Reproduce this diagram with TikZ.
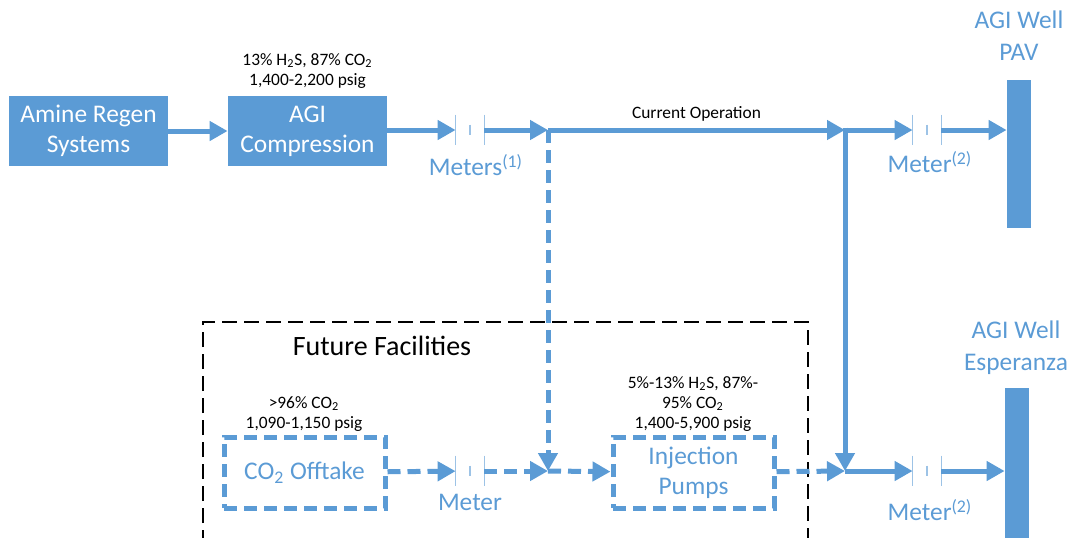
\documentclass[tikz,border=0pt]{standalone}
\usepackage{fontspec}
\setmainfont{Carlito}
\usetikzlibrary{arrows.meta}

\definecolor{pipeblue}{HTML}{5B9BD5}
\definecolor{meterblue}{HTML}{9DC3E6}

\tikzset{
  unit/.style={fill=pipeblue, text=white, minimum width=79.5pt, minimum height=35pt,
    align=center, font=\fontsize{12.7}{15}\selectfont},
  future/.style={draw=pipeblue, line width=2.5pt, dash pattern=on 6.5pt off 3.5pt,
    text=pipeblue, minimum width=80.5pt, minimum height=35.5pt,
    align=center, font=\fontsize{12.7}{15}\selectfont},
  meter/.style={minimum width=14pt, minimum height=15pt},
  meterline/.style={meterblue, line width=0.6pt},
  tag/.style={text=pipeblue, font=\fontsize{12.7}{16}\selectfont, align=center},
  small/.style={text=black, font=\fontsize{8.7}{10}\selectfont, align=center},
  well/.style={fill=pipeblue, minimum width=12pt},
  pipe/.style={pipeblue, line width=2.5pt, -{Triangle[length=9pt,width=9.5pt]}},
  newpipe/.style={pipe, dash pattern=on 6.5pt off 3.5pt},
  facility/.style={line width=1pt, dash pattern=on 7.5pt off 3.5pt}
}

\begin{document}
\begin{tikzpicture}[x=0.5pt,y=-0.5pt, every node/.style={inner sep=0pt}]
\useasboundingbox (0,0) rectangle (1072,537);

% existing plant
\node[unit] (amine) at (88.5,131) {Amine Regen\\Systems};
\node[unit] (agi) at (307.5,131) {AGI\\Compression};
\node[small] (agiinfo) at (307.5,71) {13\% H\textsubscript{2}S, 87\% CO\textsubscript{2}\\1,400-2,200 psig};

\node[meter] (m1) at (470,130) {};
\node[tag] (m1lbl) at (476,165) {Meters\textsuperscript{(1)}};
\node[meter] (m2) at (927,130) {};
\node[tag] (m2lbl) at (930,162) {Meter\textsuperscript{(2)}};

\coordinate (j1) at (548,130);
\coordinate (j2) at (845,130);

% wells
\node[well, minimum height=74pt] (pav) at (1019,154) {};
\node[tag] (pavlbl) at (1019,36) {AGI Well\\PAV};
\node[well, minimum height=86pt] (esp) at (1017,474) {};
\node[tag] (esplbl) at (1016,348) {AGI Well\\Esperanza};

% future facilities
\draw[facility] (203,545) -- (203,322) -- (808,322) -- (808,545);
\node[font=\fontsize{14}{16}\selectfont] (futlbl) at (382,346) {Future Facilities};

\node[future] (offtake) at (304.5,472.5) {CO\textsubscript{2} Offtake};
\node[small] (offinfo) at (304,414) {>96\% CO\textsubscript{2}\\1,090-1,150 psig};
\node[future] (pumps) at (693.5,472.5) {Injection\\Pumps};
\node[small] (pumpinfo) at (693,404) {5\%-13\% H\textsubscript{2}S, 87\%-\\95\% CO\textsubscript{2}\\1,400-5,900 psig};

\node[meter] (m3) at (470,471) {};
\node[tag] (m3lbl) at (470,502) {Meter};
\node[meter] (m4) at (927,471) {};
\node[tag] (m4lbl) at (930,510) {Meter\textsuperscript{(2)}};

\coordinate (j3) at (548,471);
\coordinate (j4) at (845,471);

% meter bodies
\foreach \m in {m1,m2,m3,m4} {
  \draw[meterline] (\m.north west) -- (\m.south west);
  \draw[meterline] (\m.north east) -- (\m.south east);
  \draw[meterline] ([yshift=-5pt]\m.north) -- ([yshift=5pt]\m.south);
}

% piping
\draw[pipe] (amine) -- (agi);
\draw[pipe] (agi.east |- m1) -- (m1);
\draw[pipe] (m1) -- (j1);
\draw[pipe] (j1) -- node[small, above=3pt] (curop) {Current Operation} (j2);
\draw[pipe] ([yshift=1.25pt]j2) -- (j4);
\draw[pipe] (j2) -- (m2);
\draw[pipe] (m2) -- (m2 -| pav.west);

\draw[newpipe] (j1) -- (j3);
\draw[newpipe] (offtake) -- (m3);
\draw[newpipe] (m3) -- (j3);
\draw[newpipe] (j3) -- (pumps);
\draw[newpipe] (pumps) -- (j4);
\draw[pipe] (j4) -- (m4);
\draw[pipe] (m4) -- (m4 -| esp.west);
\end{tikzpicture}
\end{document}
